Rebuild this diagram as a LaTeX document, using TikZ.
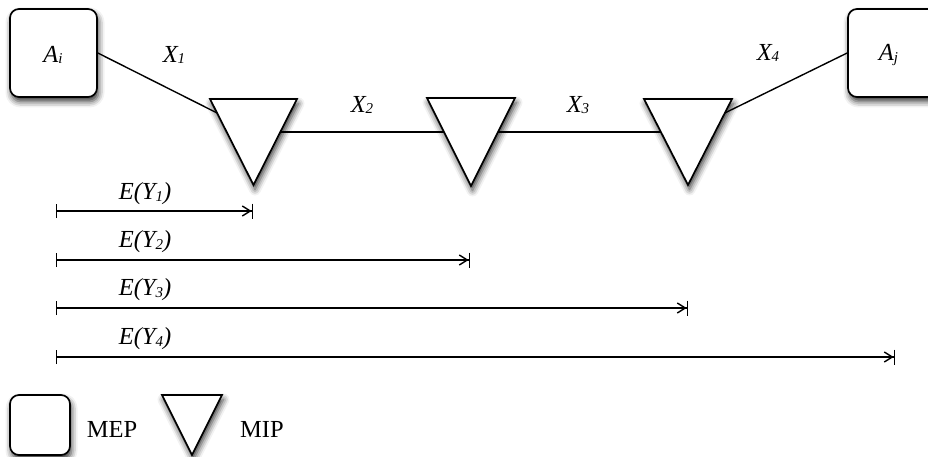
\documentclass[tikz,border=0pt]{standalone}
\usepackage{fontspec}
\setmainfont{Liberation Serif}
\usetikzlibrary{arrows.meta,shadows.blur}
\newcommand\mysub[1]{\raisebox{-1.5pt}{\fontsize{15}{15}\selectfont #1}}
\begin{document}
\begin{tikzpicture}[x=1pt,y=-1pt,
  shad/.style={blur shadow={shadow xshift=1.5pt,shadow yshift=-4.5pt,shadow blur radius=6pt,shadow opacity=80}},
  mep/.style={draw,line width=1.7pt,rounded corners=9pt,fill=white,shad,inner sep=0pt},
  mip/.style={draw,line width=1.7pt,line join=miter,fill=white,shad},
  conn/.style={line width=1.4pt},
  lab/.style={inner sep=0pt,font=\fontsize{24.5}{26}\selectfont\itshape},
  leg/.style={inner sep=0pt,font=\fontsize{24.5}{26}\selectfont},
  meas/.style={line width=1.4pt,{Bar[width=14pt,sep=0pt]}-{Straight Barb[length=8pt,width=10pt,sep=0pt]Bar[width=15pt,sep=0pt]}}]
\useasboundingbox (0,0) rectangle (928,457);
% triangle connection points
\coordinate (t1w) at (217.1,113);
\coordinate (t1e) at (280.3,132);
\coordinate (t2w) at (444,132);
\coordinate (t2e) at (498,132);
\coordinate (t3w) at (660.9,132);
\coordinate (t3e) at (724.8,113);
% triangles (MIP)
\draw[mip] (210,99) -- (297,99) -- (253.5,185) -- cycle;
\draw[mip] (427,98) -- (515,98) -- (471,186) -- cycle;
\draw[mip] (644,99) -- (732,99) -- (688,185) -- cycle;
% end points (MEP)
\node[mep,minimum width=87pt,minimum height=88pt] (ai) at (53.5,53) {};
\node[lab] (ailab) at (53,55) {A\mysub{i}};
\node[mep,minimum width=90pt,minimum height=88pt] (aj) at (893,53) {};
\node[lab] (ajlab) at (888.5,55) {A\mysub{j}};
% connectors
\draw[conn] (ai.east) -- (t1w);
\draw[conn] (t1e) -- (t2w);
\draw[conn] (t2e) -- (t3w);
\draw[conn] (t3e) -- (aj.west);
\node[lab] (x1) at (174,55) {X\mysub{1}};
\node[lab] (x2) at (362,105) {X\mysub{2}};
\node[lab] (x3) at (578,105) {X\mysub{3}};
\node[lab] (x4) at (768,53) {X\mysub{4}};
% measures
\coordinate (s1) at (56,211); \coordinate (e1) at (253,211);
\coordinate (s2) at (56,260); \coordinate (e2) at (470,260);
\coordinate (s3) at (56,308); \coordinate (e3) at (688,308);
\coordinate (s4) at (56,357); \coordinate (e4) at (895,357);
\draw[meas] (s1) -- (e1);
\draw[meas] (s2) -- (e2);
\draw[meas] (s3) -- (e3);
\draw[meas] (s4) -- (e4);
\node[lab] (ey1) at (145,194) {E(Y\mysub{1})};
\node[lab] (ey2) at (145,242) {E(Y\mysub{2})};
\node[lab] (ey3) at (145,290) {E(Y\mysub{3})};
\node[lab] (ey4) at (145,339) {E(Y\mysub{4})};
% legend
\node[mep,minimum width=60pt,minimum height=60pt] (legbox) at (40,425) {};
\node[leg] (mep) at (112,429) {MEP};
\draw[mip] (162,395) -- (222,395) -- (192,455) -- cycle;
\node[leg] (mipl) at (262,429) {MIP};
\end{tikzpicture}
\end{document}
